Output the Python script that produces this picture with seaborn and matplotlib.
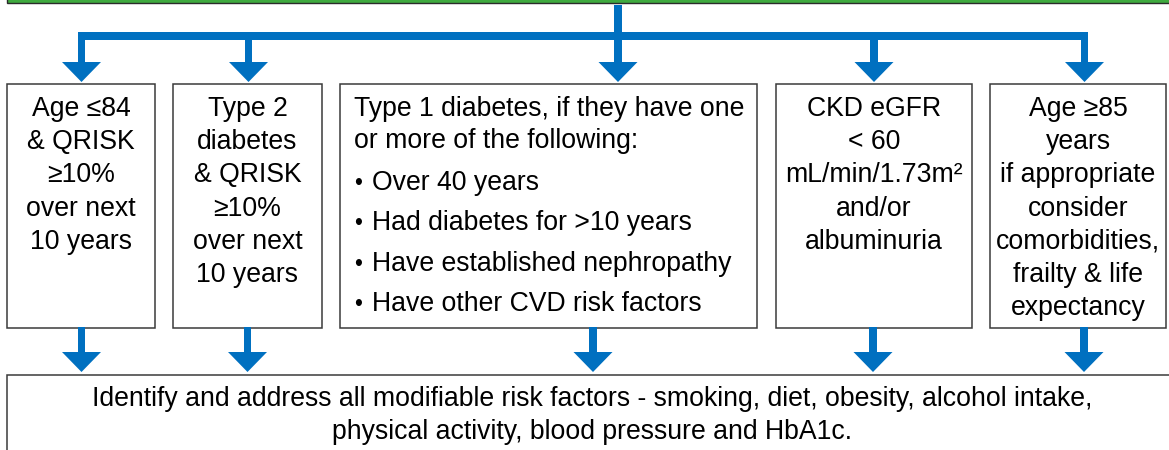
import matplotlib
matplotlib.use('Agg')
import matplotlib.pyplot as plt
import seaborn as sns
from matplotlib.patches import Rectangle, Polygon

# Box contents
box1_lines = ['Age \u226484', '& QRISK', '\u226510%', 'over next', '10 years']
box2_lines = ['Type 2', 'diabetes', '& QRISK', '\u226510%', 'over next', '10 years']
box3_intro = ['Type 1 diabetes, if they have one', 'or more of the following:']
box3_bullets = ['Over 40 years', 'Had diabetes for >10 years',
                'Have established nephropathy', 'Have other CVD risk factors']
box4_lines = ['CKD eGFR', '< 60', 'mL/min/1.73m\u00b2', 'and/or', 'albuminuria']
box5_lines = ['Age \u226585', 'years', 'if appropriate', 'consider',
              'comorbidities,', 'frailty & life', 'expectancy']
bottom_lines = ['Identify and address all modifiable risk factors - smoking, diet, obesity, alcohol intake,',
                'physical activity, blood pressure and HbA1c.']

sns.set_theme(style='white')
plt.rcParams['font.family'] = ['Liberation Sans', 'DejaVu Sans']

BLUE = '#0070C0'
EDGE = '#3a3a3a'
FS = 19.2
LINE = 33.2

fig = plt.figure(figsize=(11.69, 4.5), dpi=100)
ax = fig.add_axes([0, 0, 1, 1])
ax.set_xlim(0, 1169)
ax.set_ylim(450, 0)
ax.axis('off')

# green box at the top (cut off)
ax.add_patch(Rectangle((7, -30), 1180, 33, facecolor='#3FAA3F', edgecolor='#2b2b2b', lw=1.0))

# boxes (x0, x1)
box_x = [(7, 155), (173, 322), (340, 757), (776, 972), (990, 1166)]
for x0, x1 in box_x:
    ax.add_patch(Rectangle((x0, 84), x1 - x0, 244, facecolor='white', edgecolor=EDGE, lw=1.1))
ax.add_patch(Rectangle((7, 375), 1175, 100, facecolor='white', edgecolor=EDGE, lw=1.1))


def arrow(c, y0, y1, tip):
    ax.add_patch(Rectangle((c - 3.8, y0), 7.6, y1 - y0 + 0.5, facecolor=BLUE, edgecolor='none'))
    ax.add_patch(Polygon([(c - 19.5, y1), (c + 19.5, y1), (c, tip)], closed=True,
                         facecolor=BLUE, edgecolor='none'))


# connectors from the top
ax.add_patch(Rectangle((614.2, 5), 7.6, 34, facecolor=BLUE, edgecolor='none'))
ax.add_patch(Rectangle((77.7, 32), 1010.6, 7.5, facecolor=BLUE, edgecolor='none'))
for c in [81.5, 248.5, 618, 874, 1084.5]:
    arrow(c, 32, 62, 82)
for c in [81.5, 247.5, 593, 873, 1084]:
    arrow(c, 327, 352, 372)

# centred box text
for (x0, x1), lines in zip([box_x[0], box_x[1], box_x[3], box_x[4]],
                           [box1_lines, box2_lines, box4_lines, box5_lines]):
    for i, t in enumerate(lines):
        ax.text((x0 + x1) / 2, 116 + i * LINE, t, ha='center', va='baseline',
                fontsize=FS, color='black')

# type 1 box
for i, t in enumerate(box3_intro):
    ax.text(354, 116 + i * 32.5, t, ha='left', va='baseline', fontsize=FS, color='black')
for i, t in enumerate(box3_bullets):
    y = 190 + i * 40.3
    ax.text(354, y, '\u2022', ha='left', va='baseline', fontsize=FS * 0.85, color='black')
    ax.text(372, y, t, ha='left', va='baseline', fontsize=FS, color='black')

# bottom box text
for i, t in enumerate(bottom_lines):
    ax.text(592, 406 + i * 33, t, ha='center', va='baseline', fontsize=FS, color='black')

fig.savefig('out.png', dpi=100)
